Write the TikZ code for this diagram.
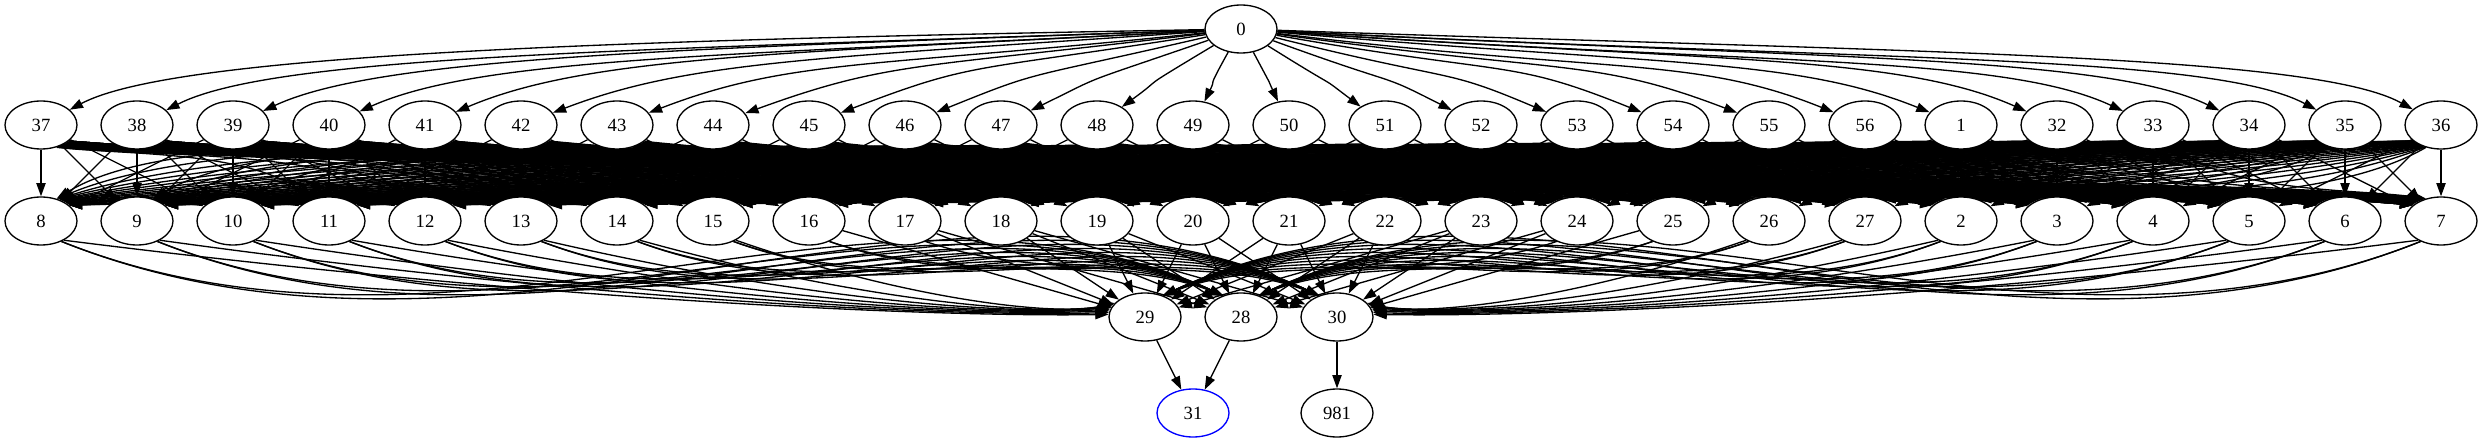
\documentclass[tikz,border=0pt]{standalone}
\usepackage{fontspec}
\setmainfont{Liberation Serif}
\usetikzlibrary{shapes.geometric,arrows.meta}
\pgfdeclarelayer{edgelayer}
\pgfsetlayers{edgelayer,main}
\tikzset{
  gnode/.style={draw, ellipse, minimum width=72pt, minimum height=48pt, inner sep=0pt,
    line width=1.33pt, fill=white, font=\fontsize{18.67}{22}\selectfont},
  gedge/.style={line width=1.33pt, -{Triangle[length=13.3pt,width=9.3pt]}},
}
\begin{document}
\begin{tikzpicture}[x=1pt,y=1pt]
\useasboundingbox (0,0) rectangle (2483,-443);
% nodes
\node[gnode] (n0) at (1241,-29) {0};
\foreach \lab [count=\i from 0] in {37,38,39,40,41,42,43,44,45,46,47,48,49,50,51,52,53,54,55,56,1,32,33,34,35,36}{
  \node[gnode] (a\i) at ({41+96*\i},-125) {\lab};
}
\foreach \lab [count=\i from 0] in {8,9,10,11,12,13,14,15,16,17,18,19,20,21,22,23,24,25,26,27,2,3,4,5,6,7}{
  \node[gnode] (b\i) at ({41+96*\i},-221) {\lab};
}
\node[gnode] (c29) at (1145,-317) {29};
\node[gnode] (c28) at (1241,-317) {28};
\node[gnode] (c30) at (1337,-317) {30};
\node[gnode, draw=blue] (d31) at (1193,-413) {31};
\node[gnode] (d981) at (1337,-413) {981};
\begin{pgfonlayer}{edgelayer}
% 0 -> layer 1
\foreach \i in {0,...,25}{
  \pgfmathsetmacro{\qdx}{96*\i-1200}
  \pgfmathsetmacro{\qadx}{abs(\qdx)}
  \pgfmathtruncatemacro{\qsg}{\qdx>0 ? 1 : -1}
  \pgfmathsetmacro{\qs}{\qadx/1200}
  \pgfmathsetmacro{\qbase}{atan(96/\qadx)}
  \pgfmathsetmacro{\qao}{\qbase*(1-0.6*\qs)}
  \pgfmathsetmacro{\qai}{\qbase+24*\qs}
  \pgfmathtruncatemacro{\qoa}{270+\qsg*(90-\qao)}
  \pgfmathtruncatemacro{\qia}{90+\qsg*(90-\qai)}
  \pgfmathsetmacro{\qdA}{0.5*(\qadx+50)}
  \pgfmathsetmacro{\qdB}{min(0.3*(\qadx+50),55/sin(\qai))}
  \draw[gedge] (n0.\qoa) .. controls +(\qoa:\qdA pt) and +(\qia:\qdB pt) .. (a\i.\qia);
}
% layer 1 -> layer 2
\foreach \k in {0,...,25}{
  \foreach \m in {0,...,25}{
    \pgfmathtruncatemacro{\qd}{\m-\k}
    \pgfmathtruncatemacro{\qad}{abs(\qd)}
    \ifnum\qad<3\relax
      \draw[gedge] (a\k) -- (b\m);
    \else
      \pgfmathtruncatemacro{\qsg}{\qd>0 ? 1 : -1}
      \pgfmathsetmacro{\qxa}{41+96*\k}
      \pgfmathsetmacro{\qxb}{41+96*\m}
      \pgfmathsetmacro{\qdxx}{96*\qd}
      \pgfmathtruncatemacro{\qsa}{-90+\qsg*min(30+1.5*\qad,60)}
      \pgfmathtruncatemacro{\qea}{90+\qsg*min(30+1.5*\qad,60)}
      \pgfmathsetmacro{\qpax}{\qxa+0.3*\qdxx}
      \pgfmathsetmacro{\qpay}{-150-1.76*\m}
      \pgfmathsetmacro{\qpbx}{\qxb-0.3*\qdxx}
      \pgfmathsetmacro{\qpby}{-150-1.76*\k}
      \draw[gedge] (a\k.\qsa) .. controls (\qpax,\qpay) and (\qpbx,\qpby) .. (b\m.\qea);
    \fi
  }
}
% layer 2 -> layer 3
\foreach \m in {0,...,25}{
  \pgfmathsetmacro{\qxm}{41+96*\m}
  \foreach \T/\xt/\ns in {c29/1145/1, c28/1241/0, c30/1337/-1}{
    \pgfmathsetmacro{\qdx}{\xt-\qxm}
    \pgfmathsetmacro{\qadx}{abs(\qdx)}
    \pgfmathtruncatemacro{\qfar}{\qadx>400 ? 1 : 0}
    \ifnum\qfar=0\relax
      \draw[gedge] (b\m) -- (\T);
    \else
      \pgfmathtruncatemacro{\qsg}{\qdx>0 ? 1 : -1}
      \ifnum\qsg=\ns\relax
        \pgfmathtruncatemacro{\qq}{\qsg>0 ? \m : 25-\m}
        \pgfmathtruncatemacro{\qsa}{-90+50*\qsg}
        \pgfmathtruncatemacro{\qea}{90+\qsg*(90-(4+3*\qq))}
        \pgfmathsetmacro{\qpax}{\qxm+0.45*\qdx}
        \pgfmathsetmacro{\qpbx}{\xt-0.2*\qdx}
        \draw[gedge] (b\m.\qsa) .. controls (\qpax,-300) and (\qpbx,-317) .. (\T.\qea);
      \else
        \pgfmathtruncatemacro{\qsa}{-90+45*\qsg}
        \pgfmathtruncatemacro{\qea}{90+40*\qsg}
        \pgfmathsetmacro{\qpax}{\qxm+0.35*\qdx}
        \pgfmathsetmacro{\qpay}{-221-0.15*\qadx}
        \pgfmathsetmacro{\qpbx}{\xt-0.3*\qdx}
        \pgfmathsetmacro{\qpby}{-317+0.15*\qadx}
        \draw[gedge] (b\m.\qsa) .. controls (\qpax,\qpay) and (\qpbx,\qpby) .. (\T.\qea);
      \fi
    \fi
  }
}
% layer 3 -> layer 4
\draw[gedge] (c29) -- (d31);
\draw[gedge] (c28) -- (d31);
\draw[gedge] (c30) -- (d981);
\end{pgfonlayer}
\end{tikzpicture}
\end{document}
